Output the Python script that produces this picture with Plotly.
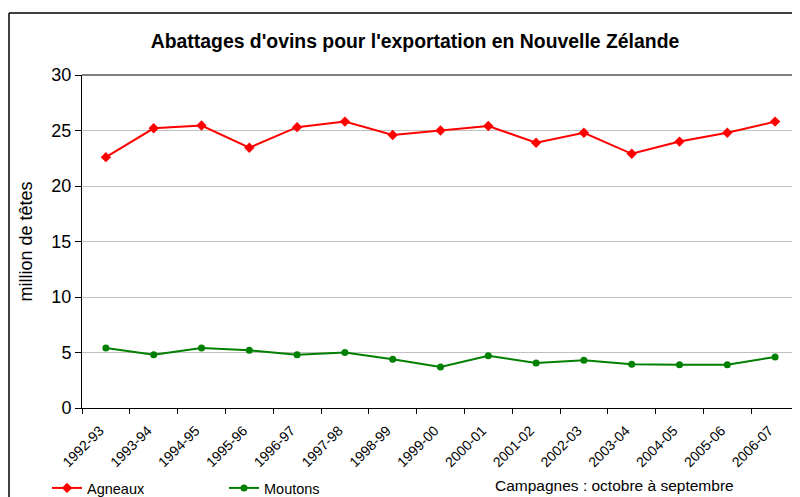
import plotly.graph_objects as go

campagnes = ["1992-93", "1993-94", "1994-95", "1995-96", "1996-97", "1997-98", "1998-99",
             "1999-00", "2000-01", "2001-02", "2002-03", "2003-04", "2004-05", "2005-06", "2006-07"]
agneaux = [22.6, 25.2, 25.45, 23.45, 25.3, 25.8, 24.6, 25.0, 25.4, 23.9, 24.8, 22.9, 24.0, 24.8, 25.8]
moutons = [5.4, 4.8, 5.4, 5.2, 4.8, 5.0, 4.4, 3.7, 4.7, 4.05, 4.3, 3.95, 3.9, 3.9, 4.6]
yticks = [0, 5, 10, 15, 20, 25, 30]

# page body has an 8px default margin: work in screen pixels, convert to figure pixels
OFF = 8
W, H = 800 - OFF, 497 - OFF
L = 82 - OFF
T = 75 - OFF
R = W - (799 - OFF)
B = H - (408 - OFF)
pw, ph = W - L - R, H - T - B

def px(sx):
    return (sx - OFF - L) / pw

def py(sy):
    return (H - B - (sy - OFF)) / ph

fig = go.Figure()
fig.add_trace(go.Scatter(x=campagnes, y=agneaux, name="Agneaux", mode="lines+markers",
                         line=dict(color="#FF0000", width=2),
                         marker=dict(symbol="diamond", size=8, color="#FF0000")))
fig.add_trace(go.Scatter(x=campagnes, y=moutons, name="Moutons", mode="lines+markers",
                         line=dict(color="#008000", width=2),
                         marker=dict(symbol="circle", size=7, color="#008000")))

fig.update_layout(
    width=W, height=H,
    margin=dict(l=L, r=R, t=T, b=B, autoexpand=False),
    paper_bgcolor="white", plot_bgcolor="white",
    font=dict(family="Arial, Liberation Sans, sans-serif", color="black"),
    title=dict(text="<b>Abattages d'ovins pour l'exportation en Nouvelle Zélande</b>",
               xref="container", x=(415 - OFF) / W, xanchor="center",
               yref="container", y=1 - (41 - OFF) / H, yanchor="middle",
               font=dict(size=19.4)),
    xaxis=dict(type="category", range=[-0.5, len(campagnes) - 0.5],
               tickangle=-45, tickfont=dict(size=14), automargin=False,
               ticklabelstandoff=8, ticklabelshift=-6,
               showline=True, linecolor="black", linewidth=1,
               ticks="outside", ticklen=5, tickcolor="black",
               tickson="boundaries", showgrid=False, zeroline=False),
    yaxis=dict(range=[0, 30], tickvals=yticks, tickfont=dict(size=18), automargin=False,
               showline=True, linecolor="black", linewidth=1,
               ticks="outside", ticklen=6, tickcolor="black",
               showgrid=True, gridcolor="#C0C0C0", gridwidth=1, zeroline=False,
               title=dict(text="million de têtes", font=dict(size=18), standoff=14)),
    showlegend=True,
    legend=dict(orientation="h", x=px(47), xanchor="left", y=py(488), yanchor="middle",
                font=dict(size=14.5), entrywidth=132, entrywidthmode="pixels",
                bgcolor="rgba(0,0,0,0)", tracegroupgap=0),
    shapes=[
        dict(type="line", xref="paper", yref="paper", x0=0, x1=1, y0=1, y1=1,
             line=dict(color="#808080", width=2)),
        dict(type="line", xref="paper", yref="paper", x0=1, x1=1, y0=0, y1=1,
             line=dict(color="#808080", width=2)),
        # outer chart frame (its right and bottom sides lie outside the picture)
        dict(type="line", xref="paper", yref="paper", x0=px(9), x1=px(805), y0=py(13), y1=py(13),
             line=dict(color="black", width=1.5), layer="below"),
        dict(type="line", xref="paper", yref="paper", x0=px(9), x1=px(9), y0=py(13), y1=py(505),
             line=dict(color="black", width=1.5), layer="below"),
    ],
    annotations=[
        dict(text="Campagnes : octobre à septembre", xref="paper", yref="paper",
             x=px(614), y=py(485), xanchor="center", yanchor="middle", showarrow=False,
             font=dict(size=15.5)),
    ],
)

fig.write_html("out.html")
